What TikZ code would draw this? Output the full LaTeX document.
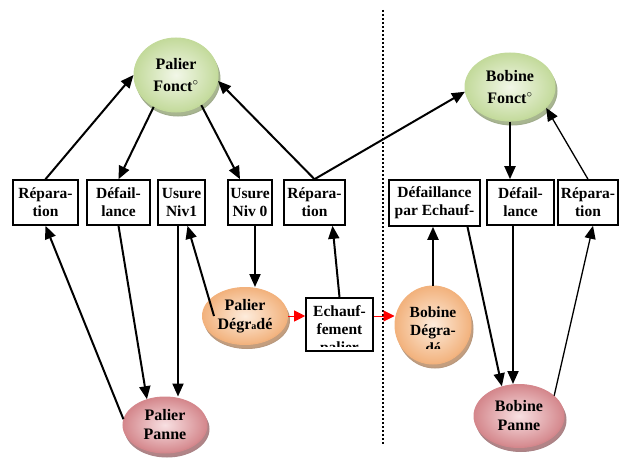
\documentclass[tikz,border=0pt]{standalone}
\usepackage{fontspec}
\setmainfont{Liberation Serif}
\usetikzlibrary{arrows.meta, shapes.geometric}

\definecolor{vertbord}{RGB}{195,218,155}
\definecolor{vertclair}{RGB}{242,247,232}
\definecolor{orbord}{RGB}{242,178,125}
\definecolor{orclair}{RGB}{253,236,220}
\definecolor{rosebord}{RGB}{212,135,140}
\definecolor{roseclair}{RGB}{248,224,226}

\tikzset{
  texte/.style={font=\fontsize{15.5}{18}\selectfont\bfseries, align=center},
  texteetat/.style={font=\fontsize{16}{22}\selectfont\bfseries, align=center},
  serre/.style={font=\fontsize{16}{19}\selectfont\bfseries},
  etat/.style 2 args={ellipse, texteetat, inner sep=0pt, line width=1pt, draw=#1,
    inner color=#2, outer color=#1,
    preaction={fill=#1!60!gray, draw=#1!50!gray, transform canvas={shift={(2pt,-4pt)}}}},
  boite/.style={draw, line width=1.6pt, fill=white, texte, inner sep=0pt},
  fleche/.style={line width=2pt, -{Triangle[length=13pt,width=11pt]}},
  flechefine/.style={line width=1.3pt, -{Triangle[length=13pt,width=11pt]}},
  rouge/.style={red, line width=1pt, -{Triangle[length=11pt,width=11pt]}}
}

\begin{document}
\begin{tikzpicture}[x=1pt, y=-1pt]
  \useasboundingbox (0,0) rectangle (627,460);

  \draw[line width=2.2pt, dash pattern=on 2pt off 2pt] (383,10) -- (383,445);

  \node[etat={vertbord}{vertclair}, minimum width=84pt, minimum height=74pt] (pf) at (176,75) {Palier\\Fonct$^{\circ}$};
  \node[etat={vertbord}{vertclair}, minimum width=90pt, minimum height=68pt] (bf) at (510,87) {Bobine\\Fonct$^{\circ}$};
  \node[etat={orbord}{orclair}, serre, minimum width=85pt, minimum height=57pt,
    text depth=4pt] (pd) at (245,316) {Palier\\D\'egr{\fontsize{10}{10}\selectfont a}d\'e};
  \node[etat={orbord}{orclair}, minimum width=76pt, minimum height=78pt,
    path picture={
      \clip (path picture bounding box.north west) rectangle ([yshift=16pt]path picture bounding box.south east);
      \node[texte] at ([yshift=-5pt]path picture bounding box.center) {Bobine\\D\'egra-\\d\'e};}] (bd) at (433,325) {};
  \node[etat={rosebord}{roseclair}, serre, minimum width=84pt, minimum height=56pt] (pp) at (165,425) {Palier\\Panne};
  \node[etat={rosebord}{roseclair}, serre, minimum width=90pt, minimum height=63pt] (bp) at (519,416) {Bobine\\Panne};

  \node[boite, minimum width=65pt, minimum height=45pt] (rep1) at (45.5,202.5) {R\'epara-\\tion};
  \node[boite, minimum width=63pt, minimum height=45pt] (def1) at (118.5,202.5) {D\'efail-\\lance};
  \node[boite, minimum width=47pt, minimum height=45pt] (usn1) at (181.5,202.5) {Usure\\Niv1};
  \node[boite, minimum width=44pt, minimum height=45pt] (usn0) at (250,202.5) {Usure\\Niv 0};
  \node[boite, minimum width=61pt, minimum height=45pt] (rep2) at (314.5,202.5) {R\'epara-\\tion};
  \node[boite, minimum width=91pt, minimum height=46pt] (defech) at (434.5,203) {D\'efaillance\\par Echauf-};
  \node[boite, minimum width=67pt, minimum height=45pt] (def2) at (520.5,202.5) {D\'efail-\\lance};
  \node[boite, minimum width=60pt, minimum height=45pt] (rep3) at (588,202.5) {R\'epara-\\tion};
  \node[boite, minimum width=67pt, minimum height=53pt,
    path picture={
      \clip (path picture bounding box.north west) rectangle ([yshift=5pt]path picture bounding box.south east);
      \node[texte] at ([yshift=-6pt]path picture bounding box.center) {Echauf-\\fement\\palier};}] (ech) at (339.5,324.5) {};

  \draw[fleche] (rep1.north) -- (pf.west);
  \draw[fleche] (pf.235) -- (def1.north);
  \draw[fleche] (pf.310) -- ([xshift=-10pt]usn0.north);
  \draw[fleche] (rep2.north) -- (pf.352);
  \draw[fleche] (rep2.north) -- (bf.186);
  \draw[fleche] ([xshift=-10.5pt]def2.north |- bf.south) -- ([xshift=-10.5pt]def2.north);
  \draw[flechefine] (rep3.north) -- (bf.330);

  \draw[fleche] (pp.172) -- (rep1.south);
  \draw[fleche] (def1.south) -- (pp.125);
  \draw[fleche] ([xshift=-3.5pt]usn1.south) -- ([xshift=-3.5pt]usn1.south |- pp.north);
  \draw[fleche] ([xshift=12pt]pd.west) -- ([xshift=6pt]usn1.south);
  \draw[fleche] ([xshift=5pt]usn0.south) -- ([xshift=5pt]usn0.south |- pd.north);
  \draw[fleche] (ech.north) -- ([xshift=18pt]rep2.south);
  \draw[fleche] (bd.north) -- (bd.north |- defech.south);
  \draw[fleche] ([xshift=33pt]defech.south) -- (bp.120);
  \draw[fleche] ([xshift=-7.5pt]def2.south) -- ([xshift=-7.5pt]def2.south |- bp.north);
  \draw[flechefine] (bp.30) -- ([xshift=5pt]rep3.south);

  \draw[rouge] (pd.east) -- (pd.east -| ech.west);
  \draw[rouge] (pd.east -| ech.east) -- (pd.east -| bd.west);
\end{tikzpicture}
\end{document}
